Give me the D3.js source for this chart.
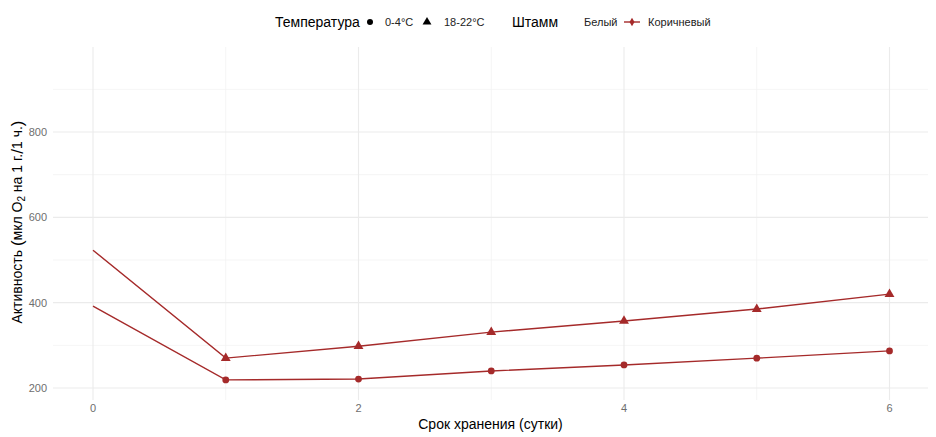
<!DOCTYPE html>
<html><head><meta charset="utf-8">
<script src="https://cdn.jsdelivr.net/npm/d3@7"></script>
<style>body{margin:0;background:#fff}svg{display:block;font-family:"Liberation Sans",Arial,sans-serif}</style>
</head><body><svg id="c" width="936" height="437"></svg>
<script>
const days = [0, 1, 2, 3, 4, 5, 6];
const warm = [523, 270, 298, 331, 357, 385, 420];   // 18-22°C, Коричневый
const cold = [392, 219, 221, 240, 254, 270, 287];   // 0-4°C, Коричневый
const xTicks = [0, 2, 4, 6];
const xMinor = [1, 3, 5];
const yTicks = [200, 400, 600, 800];
const yMinor = [300, 500, 700, 900];
const tempLabels = ["0-4°C", "18-22°C"];
const strainLabels = ["Белый", "Коричневый"];

const svg = d3.select("#c");
const panel = {l: 53, r: 928, t: 47, b: 400};
const x = d3.scaleLinear().domain([0, 6]).range([93, 889.5]);
const y = d3.scaleLinear().domain([200, 800]).range([388, 132]);
const col = "#a52a2a";

const g = svg.append("g");
// grid
g.selectAll(".hm").data(yMinor).join("line").attr("x1", panel.l).attr("x2", panel.r)
  .attr("y1", d => y(d)).attr("y2", d => y(d)).attr("stroke", "#f2f2f2").attr("stroke-width", 0.8);
g.selectAll(".vm").data(xMinor).join("line").attr("y1", panel.t).attr("y2", panel.b)
  .attr("x1", d => x(d)).attr("x2", d => x(d)).attr("stroke", "#f2f2f2").attr("stroke-width", 0.8);
g.selectAll(".hM").data(yTicks).join("line").attr("x1", panel.l).attr("x2", panel.r)
  .attr("y1", d => y(d)).attr("y2", d => y(d)).attr("stroke", "#ebebeb").attr("stroke-width", 1.1);
g.selectAll(".vM").data(xTicks).join("line").attr("y1", panel.t).attr("y2", panel.b)
  .attr("x1", d => x(d)).attr("x2", d => x(d)).attr("stroke", "#ebebeb").attr("stroke-width", 1.1);

// tick labels
g.selectAll(".yl").data(yTicks).join("text").attr("x", 47).attr("y", d => y(d) + 4)
  .attr("text-anchor", "end").attr("font-size", 11).attr("fill", "#6e6e6e").text(d => d);
g.selectAll(".xl").data(xTicks).join("text").attr("x", d => x(d)).attr("y", 412)
  .attr("text-anchor", "middle").attr("font-size", 11).attr("fill", "#6e6e6e").text(d => d);

// axis titles
svg.append("text").attr("x", 490.5).attr("y", 429).attr("text-anchor", "middle")
  .attr("font-size", 14).attr("fill", "#000").text("Срок хранения (сутки)");
const yt = svg.append("text").attr("transform", "translate(22,222) rotate(-90)")
  .attr("text-anchor", "middle").attr("font-size", 14).attr("fill", "#000");
yt.append("tspan").text("Активность ");
yt.append("tspan").attr("font-size", 17).attr("dy", 1).text("(");
yt.append("tspan").attr("dy", -1).text("мкл O");
yt.append("tspan").attr("font-size", 10).attr("dy", 3).text("2");
yt.append("tspan").attr("dy", -3).text(" на 1 г.");
yt.append("tspan").attr("font-size", 17).attr("dy", 1).text("/");
yt.append("tspan").attr("dy", -1).text("1 ч.");
yt.append("tspan").attr("font-size", 17).attr("dy", 1).text(")");

// lines
const line = d3.line().x((d, i) => x(days[i])).y(d => y(d));
[warm, cold].forEach(s => {
  g.append("path").attr("d", line(s)).attr("fill", "none").attr("stroke", col).attr("stroke-width", 1.4);
});
const tri = d3.symbol().type(d3.symbolTriangle).size(42);
g.selectAll(".tp").data(warm.slice(1)).join("path").attr("d", tri)
  .attr("transform", (d, i) => `translate(${x(days[i + 1])},${y(d)})`).attr("fill", col);
g.selectAll(".cp").data(cold.slice(1)).join("circle").attr("cx", (d, i) => x(days[i + 1]))
  .attr("cy", d => y(d)).attr("r", 3.4).attr("fill", col);

// legend
const L = svg.append("g");
L.append("text").attr("x", 275).attr("y", 27).attr("font-size", 14).text("Температура");
L.append("circle").attr("cx", 370).attr("cy", 22).attr("r", 3).attr("fill", "#000");
L.append("text").attr("x", 385).attr("y", 26).attr("font-size", 11).attr("fill", "#222").text(tempLabels[0]);
L.append("path").attr("d", d3.symbol().type(d3.symbolTriangle).size(34)).attr("transform", "translate(427,22)").attr("fill", "#000");
L.append("text").attr("x", 444).attr("y", 26).attr("font-size", 11).attr("fill", "#222").text(tempLabels[1]);
L.append("text").attr("x", 512).attr("y", 27).attr("font-size", 14).text("Штамм");
L.append("text").attr("x", 584).attr("y", 26).attr("font-size", 11).attr("fill", "#222").text(strainLabels[0]);
L.append("line").attr("x1", 624).attr("x2", 640).attr("y1", 22).attr("y2", 22).attr("stroke", col).attr("stroke-width", 1.4);
L.append("path").attr("d", d3.symbol().type(d3.symbolDiamond).size(22)).attr("transform", "translate(632,22)").attr("fill", col);
L.append("text").attr("x", 648).attr("y", 26).attr("font-size", 11).attr("fill", "#222").text(strainLabels[1]);
</script></body></html>
